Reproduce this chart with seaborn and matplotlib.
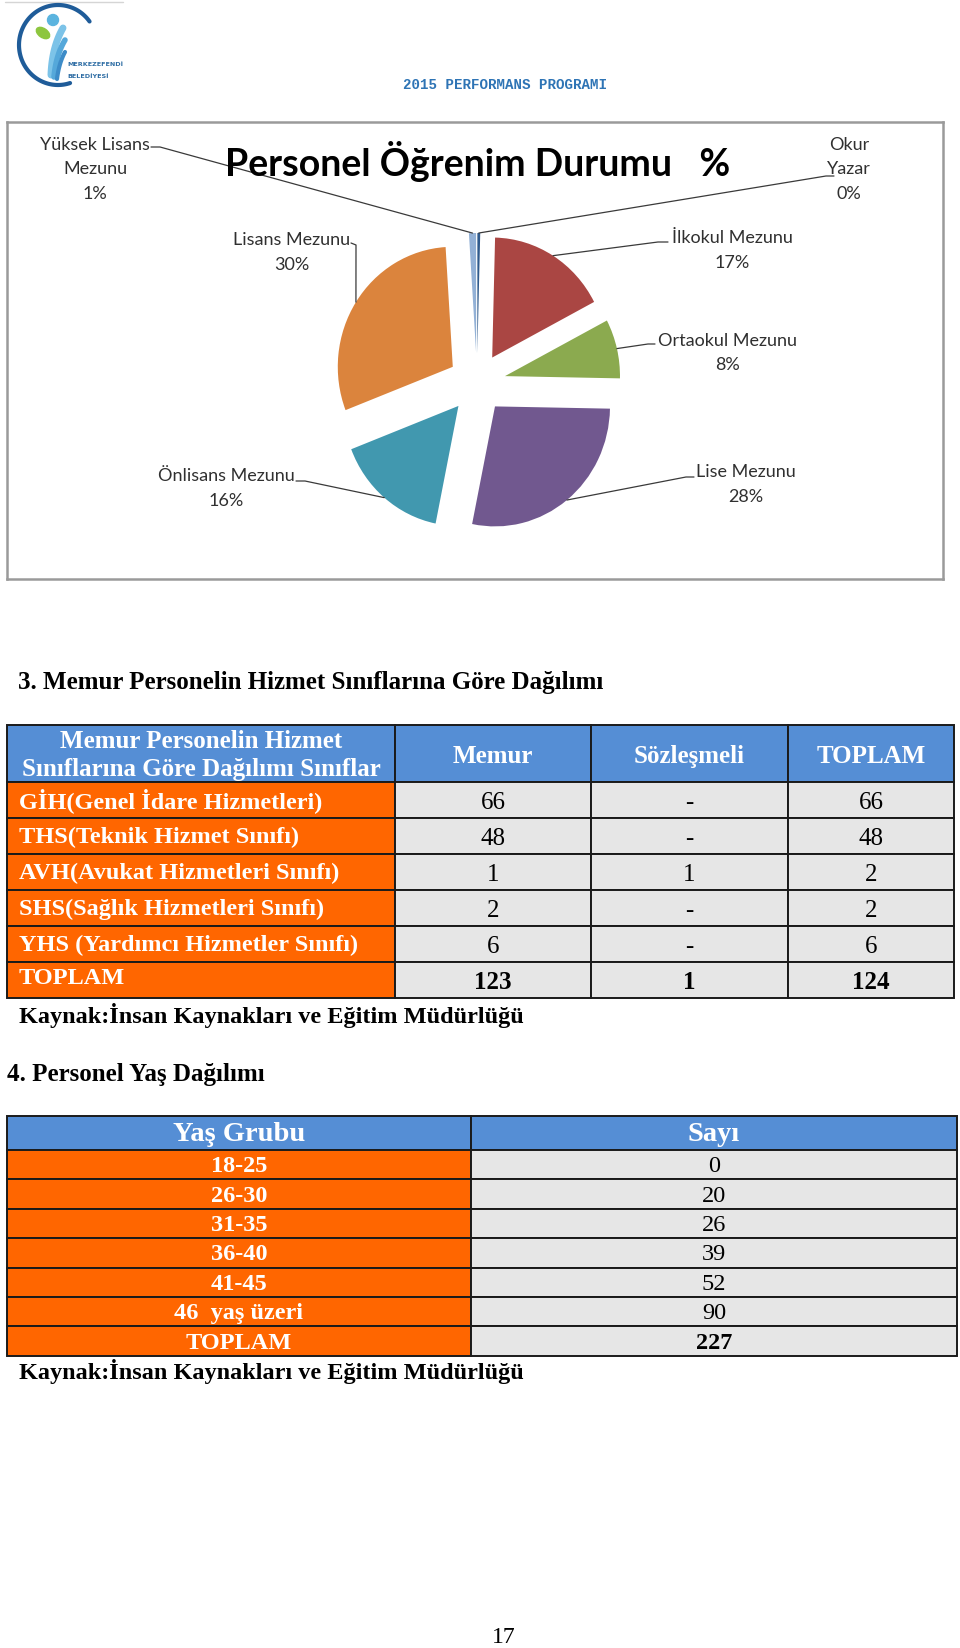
import numpy as np
import matplotlib
matplotlib.use("Agg")
import matplotlib.pyplot as plt
import seaborn as sns
from matplotlib.patches import Rectangle, Ellipse, Circle

# ------------------------------------------------------------------ data
edu_labels = ["Okur\nYazar", "İlkokul Mezunu", "Ortaokul Mezunu", "Lise Mezunu",
              "Önlisans Mezunu", "Lisans Mezunu", "Yüksek Lisans\nMezunu"]
edu_pct = [0.4, 17, 8, 28, 16, 30, 1]
edu_colors = ["#2F5A8C", "#AA4643", "#8BAA4F", "#71588F", "#4198AF", "#DB843D", "#93B1D6"]

t1_header = ["Memur Personelin Hizmet\nSınıflarına Göre Dağılımı Sınıflar",
             "Memur", "Sözleşmeli", "TOPLAM"]
class_labels = ["GİH(Genel İdare Hizmetleri)", "THS(Teknik Hizmet Sınıfı)",
                "AVH(Avukat Hizmetleri Sınıfı)", "SHS(Sağlık Hizmetleri Sınıfı)",
                "YHS (Yardımcı Hizmetler Sınıfı)"]
memur = [66, 48, 1, 2, 6]
sozlesmeli = [0, 0, 1, 0, 0]

t2_header = ["Yaş Grubu", "Sayı"]
age_groups = ["18-25", "26-30", "31-35", "36-40", "41-45", "46  yaş üzeri"]
age_counts = [0, 20, 26, 39, 52, 90]

source_text = "Kaynak:İnsan Kaynakları ve Eğitim Müdürlüğü"

# ------------------------------------------------------------------ style
sns.set_theme(style="white")
plt.rcParams["font.family"] = ["Liberation Serif", "DejaVu Serif"]
SERIF = ["Liberation Serif", "DejaVu Serif"]
SANS = ["Lato", "DejaVu Sans"]
MONO = ["Liberation Mono", "DejaVu Sans Mono"]

BLUE = "#558ED5"
ORANGE = "#FF6600"
GRAY = "#E6E6E6"
LINE = "#1A1A1A"

W, H = 960, 1649
fig = plt.figure(figsize=(W / 100, H / 100), dpi=100)
fig.patch.set_facecolor("white")

# ------------------------------------------------------------------ pie axes (box)
BX0, BX1, BY0, BY1 = 7, 943, 123, 580
CX, CY, UX, UY = 477, 384, 115, 120
ax_pie = fig.add_axes([BX0 / W, 1 - BY1 / H, (BX1 - BX0) / W, (BY1 - BY0) / H])
wedges, _ = ax_pie.pie(edu_pct, colors=edu_colors, startangle=90, counterclock=False,
                       explode=[0.25] * len(edu_pct), radius=1,
                       wedgeprops=dict(linewidth=0))
ax_pie.set_aspect("auto")
ax_pie.set_xlim((BX0 - CX) / UX, (BX1 - CX) / UX)
ax_pie.set_ylim((CY - BY1) / UY, (CY - BY0) / UY)
ax_pie.set_frame_on(True)
for s in ax_pie.spines.values():
    s.set_visible(True)
    s.set_color("#9A9A9A")
    s.set_linewidth(1.8)
ax_pie.set_xticks([])
ax_pie.set_yticks([])

# ------------------------------------------------------------------ page axes (pixel coords)
page = fig.add_axes([0, 0, 1, 1])
page.set_xlim(0, W)
page.set_ylim(H, 0)
page.axis("off")
page.patch.set_alpha(0)

# ---- logo
page.plot([5, 123], [3, 3], color="#D5D5D5", lw=1)
th = np.radians(np.linspace(36, 288, 120))
page.plot(58 + 39 * np.cos(th), 46 - 40 * np.sin(th), color="#1F5C99", lw=3,
          solid_capstyle="round")
page.add_patch(Circle((53, 21), 5.5, color="#5BB4DF"))
page.add_patch(Ellipse((43, 34), 15, 9, angle=35, color="#8DC63F"))


def bez(p0, p1, p2, n=40):
    t = np.linspace(0, 1, n)[:, None]
    p0, p1, p2 = map(np.array, (p0, p1, p2))
    return (1 - t) ** 2 * p0 + 2 * (1 - t) * t * p1 + t ** 2 * p2


for (a, b, c, lw, col) in [((63, 29), (52, 48), (51, 76), 5, "#7CC3E8"),
                           ((65, 41), (56, 56), (54, 78), 4, "#55A8DA"),
                           ((65, 53), (59, 64), (57, 80), 3, "#3D8CC8")]:
    pts = bez(a, b, c)
    page.plot(pts[:, 0], pts[:, 1], color=col, lw=lw, solid_capstyle="round")
page.text(67, 65, "MERKEZEFENDİ", fontsize=4.6, fontweight="bold", color="#2E6DA4",
          family=["DejaVu Sans"], va="center", ha="left")
page.text(67, 76, "BELEDİYESİ", fontsize=4.6, fontweight="bold", color="#2E6DA4",
          family=["DejaVu Sans"], va="center", ha="left")

page.text(505, 85, "2015 PERFORMANS PROGRAMI", family=MONO, fontsize=10.2,
          fontweight="bold", color="#2E74B5", ha="center", va="center")

# ---- pie title and labels
page.text(478, 162, "Personel Öğrenim Durumu   %", family=SANS, fontsize=27,
          fontweight="bold", color="black", ha="center", va="center")

label_layout = {
    0: dict(x=849, y=145, anchor=(834, 177), knee=(826, 177)),
    1: dict(x=732, y=238, anchor=(668, 243), knee=(658, 243)),
    2: dict(x=728, y=341, anchor=(655, 345), knee=(648, 345)),
    3: dict(x=746, y=472, anchor=(694, 478), knee=(686, 478)),
    4: dict(x=226, y=476, anchor=(296, 482), knee=(305, 482)),
    5: dict(x=292, y=240, anchor=(351, 244), knee=(356, 246)),
    6: dict(x=95, y=145, anchor=(151, 148), knee=(160, 148)),
}
total = sum(edu_pct)
to_page = ax_pie.transData + page.transData.inverted()
for i, w in enumerate(wedges):
    lay = label_layout[i]
    lines = edu_labels[i].split("\n") + [f"{round(edu_pct[i] / total * 100):d}%"]
    for k, ln in enumerate(lines):
        page.text(lay["x"], lay["y"] + k * 24.5, ln, family=SANS, fontsize=13,
                  color="#303030", ha="center", va="center")
    mid = np.radians((w.theta1 + w.theta2) / 2)
    pt = (w.center[0] + w.r * np.cos(mid), w.center[1] + w.r * np.sin(mid))
    px, py = to_page.transform(pt)
    page.plot([lay["anchor"][0], lay["knee"][0], px],
              [lay["anchor"][1], lay["knee"][1], py], color="#3A3A3A", lw=0.9)

# ---- section 3 heading
page.text(18, 683, "3. Memur Personelin Hizmet Sınıflarına Göre Dağılımı", family=SERIF,
          fontsize=18, fontweight="bold", color="black", ha="left", va="center")

# ---- table 1
T1_COLS = [7, 395, 591, 788, 954]
T1_TOP, T1_HEAD, T1_ROWH = 726, 57, 36


def cell(x0, x1, y0, y1, fc):
    page.add_patch(Rectangle((x0, y0), x1 - x0, y1 - y0, facecolor=fc,
                             edgecolor=LINE, lw=1.4))


# header
for j in range(4):
    cell(T1_COLS[j], T1_COLS[j + 1], T1_TOP, T1_TOP + T1_HEAD, BLUE)
    xc = (T1_COLS[j] + T1_COLS[j + 1]) / 2
    hl = t1_header[j].split("\n")
    if len(hl) == 1:
        page.text(xc, T1_TOP + T1_HEAD / 2 + 2, hl[0], family=SERIF, fontsize=18,
                  fontweight="bold", color="white", ha="center", va="center")
    else:
        for k, ln in enumerate(hl):
            page.text(xc, T1_TOP + 16 + k * 28, ln, family=SERIF, fontsize=18,
                      fontweight="bold", color="white", ha="center", va="center")

rows = []
for lab, m, s in zip(class_labels, memur, sozlesmeli):
    rows.append((lab, str(m), str(s) if s else "-", str(m + s), "normal"))
rows.append(("TOPLAM", str(sum(memur)), str(sum(sozlesmeli)),
             str(sum(memur) + sum(sozlesmeli)), "bold"))
for i, (lab, a, b, c, wt) in enumerate(rows):
    y0 = T1_TOP + T1_HEAD + i * T1_ROWH
    y1 = y0 + T1_ROWH
    cell(T1_COLS[0], T1_COLS[1], y0, y1, ORANGE)
    yc = (y0 + y1) / 2
    page.text(T1_COLS[0] + 12, yc - (2 if lab == "TOPLAM" else 0), lab, family=SERIF,
              fontsize=17.5, fontweight="bold", color="white", ha="left", va="center")
    for j, v in enumerate([a, b, c]):
        cell(T1_COLS[j + 1], T1_COLS[j + 2], y0, y1, GRAY)
        page.text((T1_COLS[j + 1] + T1_COLS[j + 2]) / 2, yc + 2, v, family=SERIF,
                  fontsize=18, fontweight=wt, color="black", ha="center", va="center")

page.text(19, 1016, source_text, family=SERIF, fontsize=17.5, fontweight="bold",
          color="black", ha="left", va="center")

# ---- section 4 heading
page.text(7, 1075, "4. Personel Yaş Dağılımı", family=SERIF, fontsize=18,
          fontweight="bold", color="black", ha="left", va="center")

# ---- table 2
T2_COLS = [7, 471, 957]
T2_TOP, T2_HEAD, T2_ROWH = 1117, 34, 29.4
for j in range(2):
    cell(T2_COLS[j], T2_COLS[j + 1], T2_TOP, T2_TOP + T2_HEAD, BLUE)
    page.text((T2_COLS[j] + T2_COLS[j + 1]) / 2, T2_TOP + T2_HEAD / 2 + 1, t2_header[j],
              family=SERIF, fontsize=20.5, fontweight="bold", color="white",
              ha="center", va="center")
rows2 = [(g, str(c), "normal") for g, c in zip(age_groups, age_counts)]
rows2.append(("TOPLAM", str(sum(age_counts)), "bold"))
for i, (g, c, wt) in enumerate(rows2):
    y0 = T2_TOP + T2_HEAD + i * T2_ROWH
    y1 = y0 + T2_ROWH
    yc = (y0 + y1) / 2
    cell(T2_COLS[0], T2_COLS[1], y0, y1, ORANGE)
    cell(T2_COLS[1], T2_COLS[2], y0, y1, GRAY)
    page.text((T2_COLS[0] + T2_COLS[1]) / 2, yc + 1, g, family=SERIF, fontsize=17.5,
              fontweight="bold", color="white", ha="center", va="center")
    page.text((T2_COLS[1] + T2_COLS[2]) / 2, yc + 1, c, family=SERIF, fontsize=17.5,
              fontweight=wt, color="black", ha="center", va="center")

page.text(19, 1372, source_text, family=SERIF, fontsize=17.5, fontweight="bold",
          color="black", ha="left", va="center")

# ---- page number
page.text(504, 1638, "17", family=SERIF, fontsize=17, color="black",
          ha="center", va="center")

fig.savefig("out.png", dpi=100, facecolor="white")
